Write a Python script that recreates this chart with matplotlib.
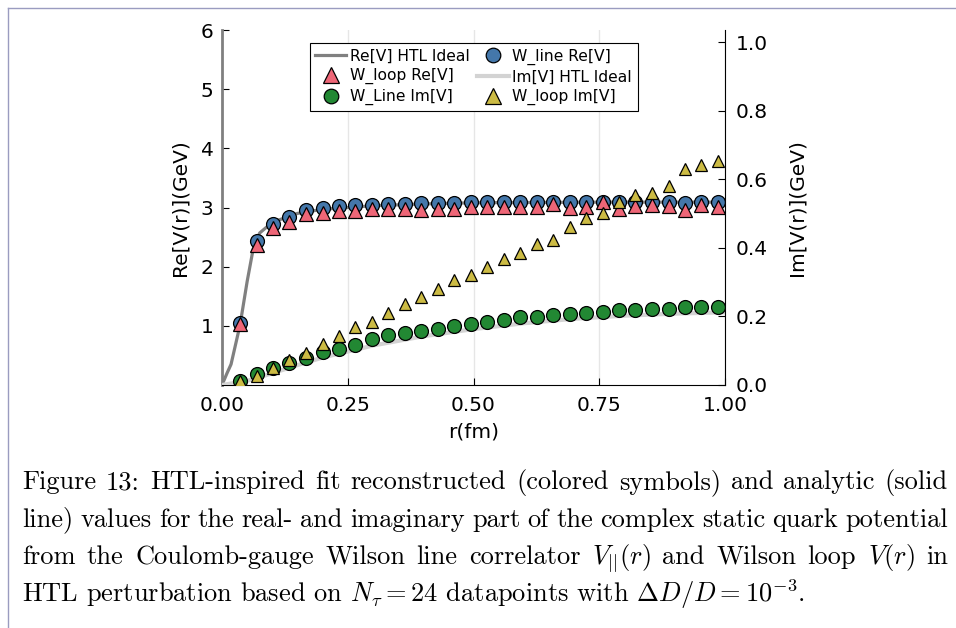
import matplotlib
matplotlib.use("Agg")
import matplotlib.pyplot as plt
from matplotlib.lines import Line2D

plt.rcParams['font.family'] = 'DejaVu Sans'
plt.rcParams['mathtext.fontset'] = 'cm'

# distances (fm)
r = [0.036, 0.069, 0.102, 0.134, 0.167, 0.200, 0.233, 0.265, 0.298, 0.331,
     0.364, 0.396, 0.429, 0.462, 0.495, 0.527, 0.560, 0.593, 0.626, 0.659,
     0.691, 0.724, 0.757, 0.789, 0.822, 0.855, 0.888, 0.920, 0.953, 0.986]

wline_re = [1.05, 2.43, 2.72, 2.84, 2.96, 2.99, 3.03, 3.04, 3.05, 3.06,
            3.06, 3.07, 3.07, 3.08, 3.09, 3.09, 3.09, 3.09, 3.09, 3.09,
            3.09, 3.09, 3.10, 3.09, 3.09, 3.10, 3.09, 3.08, 3.09, 3.09]
wloop_re = [1.03, 2.36, 2.65, 2.76, 2.89, 2.90, 2.94, 2.94, 2.97, 2.97,
            2.97, 2.96, 2.97, 2.97, 3.01, 3.01, 3.01, 3.01, 3.01, 3.06,
            3.00, 3.01, 3.09, 2.97, 3.02, 3.04, 3.02, 2.96, 3.04, 3.01]
wline_im = [0.012, 0.032, 0.051, 0.063, 0.078, 0.095, 0.105, 0.117, 0.134, 0.146,
            0.153, 0.158, 0.163, 0.172, 0.179, 0.185, 0.190, 0.197, 0.199, 0.203,
            0.206, 0.209, 0.213, 0.218, 0.219, 0.221, 0.223, 0.226, 0.226, 0.228]
wloop_im = [0.011, 0.027, 0.049, 0.073, 0.093, 0.119, 0.143, 0.168, 0.184, 0.209,
            0.235, 0.258, 0.279, 0.305, 0.320, 0.345, 0.368, 0.384, 0.412, 0.424,
            0.460, 0.488, 0.502, 0.533, 0.555, 0.560, 0.581, 0.630, 0.640, 0.654]

# analytic HTL curves
r_re_line = [0.0, 0.01, 0.018, 0.036, 0.05, 0.062, 0.075, 0.1, 0.15, 0.2,
             0.3, 0.4, 0.5, 0.75, 1.01]
re_line = [0.0, 0.2, 0.35, 1.02, 1.75, 2.3, 2.57, 2.75, 2.9, 2.97,
           3.03, 3.06, 3.08, 3.09, 3.09]
r_im_line = [0.0, 0.05, 0.1, 0.15, 0.2, 0.3, 0.4, 0.5, 0.6, 0.7, 0.8, 0.9, 1.0]
im_line = [0.0, 0.012, 0.034, 0.058, 0.08, 0.115, 0.142, 0.163, 0.18, 0.193,
           0.202, 0.208, 0.212]

caption = [
    "Figure 13: HTL-inspired fit reconstructed (colored symbols) and analytic (solid",
    "line) values for the real- and imaginary part of the complex static quark potential",
    r"from the Coulomb-gauge Wilson line correlator $V_{||}(r)$ and Wilson loop $V(r)$ in",
    r"HTL perturbation based on $N_\tau = 24$ datapoints with $\Delta D/D = 10^{-3}$.",
]

blue, red, green, yellow = '#4477AA', '#EE6677', '#228833', '#CCBB44'

W, H = 956, 628
fig = plt.figure(figsize=(W / 100, H / 100), dpi=100)
ax = fig.add_axes([222 / W, 1 - 385 / H, 503 / W, 355 / H])
ax2 = ax.twinx()

ax.plot(r_re_line, re_line, color='gray', lw=2.3, zorder=2)
ax.plot(r, wline_re, 'o', ms=10, mfc=blue, mec='black', mew=0.9, zorder=3)
ax.plot(r, wloop_re, '^', ms=10, mfc=red, mec='black', mew=0.9, zorder=4)

ax2.plot(r_im_line, im_line, color='lightgray', lw=3, zorder=2)
ax2.plot(r, wline_im, 'o', ms=10, mfc=green, mec='black', mew=0.9, zorder=3)
ax2.plot(r, wloop_im, '^', ms=8, mfc=yellow, mec='black', mew=0.9, zorder=4)

ax.set_xlim(0, 1.006)
ax.set_ylim(0, 6)
ax2.set_xlim(0, 0.996)
ax2.set_ylim(0, 1.035)

ax.set_xticks([0, 0.25, 0.5, 0.75, 1.0])
ax.set_xticklabels(['0.00', '0.25', '0.50', '0.75', '1.00'])
ax.set_yticks([1, 2, 3, 4, 5, 6])
ax2.set_yticks([0.0, 0.2, 0.4, 0.6, 0.8, 1.0])
ax2.set_yticklabels(['0.0', '0.2', '0.4', '0.6', '0.8', '1.0'])

ax.grid(axis='x', color='#e6e6e6', lw=1)
ax.tick_params(axis='y', direction='in', length=5, labelsize=14.5, pad=6)
ax.tick_params(axis='x', direction='in', length=5, labelsize=14.5, pad=8)
ax2.tick_params(direction='in', length=5, labelsize=14.5, pad=8)
ax.spines['top'].set_visible(False)
ax.spines['right'].set_visible(False)
ax.spines['left'].set_color('gray')
ax.spines['left'].set_linewidth(2)
for s in ['top', 'left', 'bottom']:
    ax2.spines[s].set_visible(False)

ax.set_xlabel('r(fm)', fontsize=14.5, labelpad=5)
ax.set_ylabel('Re[V(r)](GeV)', fontsize=14.5, labelpad=8)
ax2.set_ylabel('Im[V(r)](GeV)', fontsize=14.5, labelpad=14)

# legend entries, filled column by column to match row order
h_re = Line2D([], [], color='gray', lw=2.3)
h_wl_re = Line2D([], [], ls='', marker='o', ms=10.5, mfc=blue, mec='black', mew=0.9)
h_lp_re = Line2D([], [], ls='', marker='^', ms=11, mfc=red, mec='black', mew=0.9)
h_im = Line2D([], [], color='lightgray', lw=3)
h_wl_im = Line2D([], [], ls='', marker='o', ms=10.5, mfc=green, mec='black', mew=0.9)
h_lp_im = Line2D([], [], ls='', marker='^', ms=11, mfc=yellow, mec='black', mew=0.9)
handles = [h_re, h_lp_re, h_wl_im, h_wl_re, h_im, h_lp_im]
labels = ['Re[V] HTL Ideal', 'W_loop Re[V]', 'W_Line Im[V]',
          'W_line Re[V]', 'Im[V] HTL Ideal', 'W_loop Im[V]']
leg = ax2.legend(handles, labels, ncol=2, loc='upper left',
                 bbox_to_anchor=(0.174, 0.963), fontsize=11.2, frameon=True,
                 fancybox=False, edgecolor='black', framealpha=1,
                 handlelength=2.0, handletextpad=0.25, columnspacing=0.5,
                 labelspacing=0.3, borderpad=0.35, borderaxespad=0)
leg.get_frame().set_linewidth(0.8)

# caption, justified like the LaTeX paragraph
renderer = fig.canvas.get_renderer()
x_left, x_right = 22, 948
y0 = 489
for i, line in enumerate(caption):
    yf = 1 - (y0 + i * 37.7) / H
    if i == len(caption) - 1:
        fig.text(x_left / W, yf, line, fontsize=19, family='cmr10',
                 va='baseline', ha='left')
        continue
    words = line.split(' ')
    texts = [fig.text(0, yf, w, fontsize=19, family='cmr10',
                      va='baseline', ha='left') for w in words]
    widths = [t.get_window_extent(renderer).width for t in texts]
    gap = (x_right - x_left - sum(widths)) / (len(words) - 1)
    x = x_left
    for t, w in zip(texts, widths):
        t.set_x(x / W)
        x += w + gap

# page border
fig.add_artist(Line2D([8 / W, 8 / W], [0, 1 - 8 / H], color='#9a9cc0', lw=1))
fig.add_artist(Line2D([8 / W, 1], [1 - 8 / H, 1 - 8 / H], color='#9a9cc0', lw=1))

fig.savefig('out.png', dpi=100)
